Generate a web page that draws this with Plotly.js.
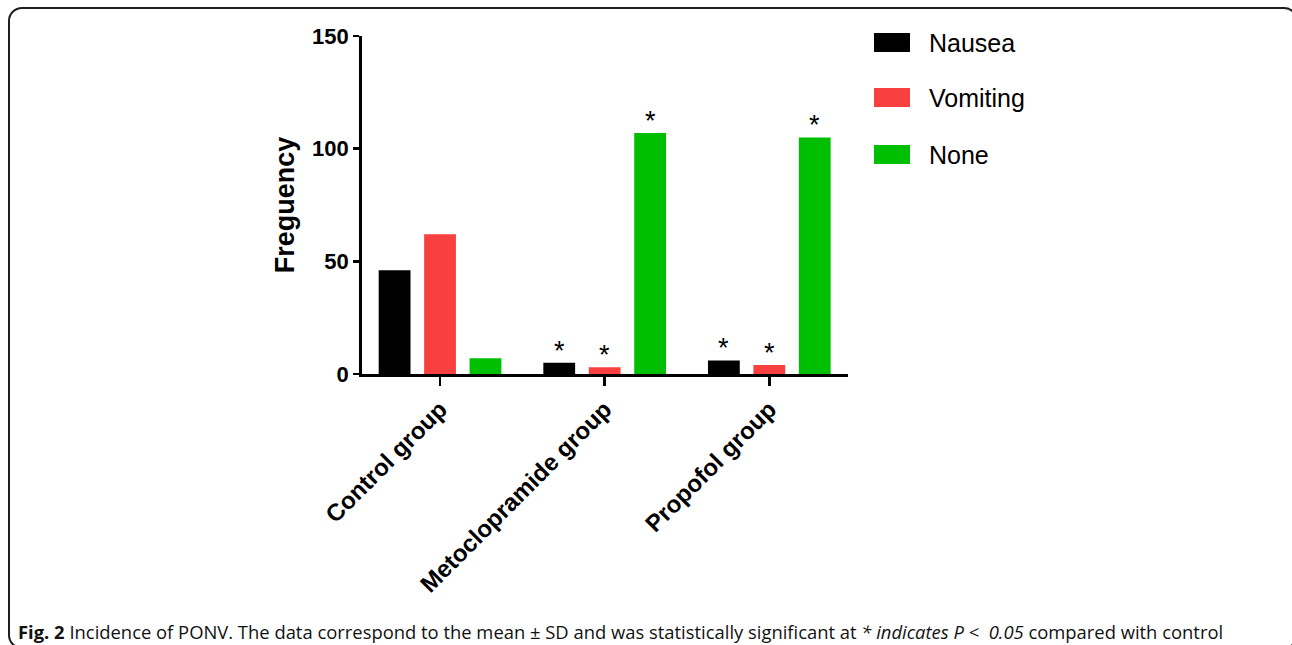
<!DOCTYPE html>
<html>
<head>
<meta charset="utf-8">
<script src="https://cdn.plot.ly/plotly-3.0.1.min.js"></script>
<style>
  html, body { margin: 0; padding: 0; background: #fff; }
  #wrap { position: relative; width: 1292px; height: 645px; overflow: hidden; }
  #chart { position: absolute; left: 0; top: 0; width: 1292px; height: 645px; }
  #frame { position: absolute; left: 8px; top: 7px; width: 1286px; height: 638px;
           border: 2px solid #1e1e1e; border-radius: 14px; pointer-events: none; }
</style>
</head>
<body>
<div id="wrap">
  <div id="chart"></div>
  <div id="frame"></div>
</div>
<script>
// ---- data ----
const categories = ["Control group", "Metoclopramide group", "Propofol group"];
const seriesNames = ["Nausea", "Vomiting", "None"];
const nausea = [46, 5, 6];
const vomiting = [62, 3, 4];
const none = [7, 107, 105];
// significance markers (* P < 0.05 vs control)
const sigNausea = [false, true, true];
const sigVomiting = [false, true, true];
const sigNone = [false, true, true];
const yTickVals = [0, 50, 100, 150];
const yTitle = "Freguency";
const captionBold = "Fig. 2";
const captionText = " Incidence of PONV. The data correspond to the mean ± SD and was statistically significant at <i>* indicates P &lt;  0.05</i> compared with control";

// ---- styling ----
const colors = ["#000000", "#f94040", "#00bf00"];
const W = 1292, H = 645;
const M = { l: 362, r: 444, t: 36, b: 271 };
const plotW = W - M.l - M.r, plotH = H - M.t - M.b;
const px2x = p => (p - M.l) / plotW;
const px2y = p => (H - M.b - p) / plotH;

const bargap = 0.172, bargroupgap = 0.3;
const slot = (1 - bargap) / 3;

const xIdx = categories.map((_, i) => i);
const seriesVals = [nausea, vomiting, none];
const sigs = [sigNausea, sigVomiting, sigNone];

const traces = seriesVals.map((vals, j) => ({
  type: "bar",
  name: seriesNames[j],
  x: xIdx,
  y: vals,
  marker: { color: colors[j], line: { width: 0 } },
  showlegend: false,
  hoverinfo: "x+y+name"
}));

const annotations = [];
// asterisks
seriesVals.forEach((vals, j) => {
  vals.forEach((v, i) => {
    if (sigs[j][i]) {
      annotations.push({
        x: i + (j - 1) * slot, y: v, xref: "x", yref: "y",
        text: "*", showarrow: false, yanchor: "bottom", yshift: -5,
        font: { family: "Arial, Liberation Sans, sans-serif", size: 27, color: "#000" }
      });
    }
  });
});

// legend (manual, to match large swatches)
const shapes = [];
const legTop = [33, 88, 145];
seriesNames.forEach((nm, j) => {
  shapes.push({
    type: "rect", xref: "paper", yref: "paper",
    x0: px2x(874), x1: px2x(910), y0: px2y(legTop[j] + 19), y1: px2y(legTop[j]),
    fillcolor: colors[j], line: { width: 0 }
  });
  annotations.push({
    x: px2x(927), y: px2y(legTop[j] + 9.5), xref: "paper", yref: "paper",
    xanchor: "left", yanchor: "middle", showarrow: false, text: nm,
    font: { family: "Arial, Liberation Sans, sans-serif", size: 25, color: "#000" }
  });
});

// caption
annotations.push({
  x: px2x(16), y: px2y(631), xref: "paper", yref: "paper",
  xanchor: "left", yanchor: "middle", showarrow: false, align: "left",
  text: "<b>" + captionBold + "</b>" + captionText,
  font: { family: "Open Sans, Noto Sans, sans-serif", size: 18.4, color: "#111" }
});

const layout = {
  width: W, height: H,
  margin: M,
  paper_bgcolor: "rgba(0,0,0,0)",
  plot_bgcolor: "rgba(0,0,0,0)",
  barmode: "group",
  bargap: bargap,
  bargroupgap: bargroupgap,
  showlegend: false,
  xaxis: {
    range: [-0.474, 2.478],
    tickmode: "array", tickvals: xIdx, ticktext: categories,
    tickangle: -45,
    ticks: "outside", ticklen: 9, tickwidth: 2.5, tickcolor: "#000",
    showline: true, linewidth: 2.8, linecolor: "#000",
    showgrid: false, zeroline: false,
    tickfont: { family: "Arial, Liberation Sans, sans-serif", size: 24, color: "#000", weight: "bold" },
    fixedrange: true
  },
  yaxis: {
    range: [0, 150],
    tickmode: "array", tickvals: yTickVals,
    ticks: "outside", ticklen: 6, tickwidth: 2.5, tickcolor: "#000",
    showline: true, linewidth: 2.8, linecolor: "#000",
    showgrid: false, zeroline: false,
    tickfont: { family: "Arial, Liberation Sans, sans-serif", size: 22, color: "#000", weight: "bold" },
    title: { text: yTitle, standoff: 10,
             font: { family: "Arial, Liberation Sans, sans-serif", size: 27, color: "#000", weight: "bold" } },
    fixedrange: true
  },
  shapes: shapes,
  annotations: annotations
};

Plotly.newPlot("chart", traces, layout, { displayModeBar: false, staticPlot: true });
</script>
</body>
</html>
